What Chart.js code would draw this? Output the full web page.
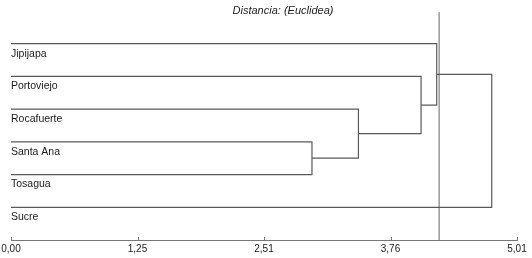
<!DOCTYPE html>
<html>
<head>
<meta charset="utf-8">
<style>
  html, body { margin: 0; padding: 0; background: #fff; }
  #wrap { width: 532px; height: 258px; }
</style>
<script src="https://cdn.jsdelivr.net/npm/chart.js@4/dist/chart.umd.min.js"></script>
</head>
<body>
<div id="wrap"><canvas id="dendro"></canvas></div>
<script>
// leaves, top to bottom
var leaves = ['Jipijapa', 'Portoviejo', 'Rocafuerte', 'Santa Ana', 'Tosagua', 'Sucre'];
// merges: children ids (0-5 leaves, 6+ = merge k), distance of each merge
var mergeLeft   = [3, 2, 1, 0, 9];
var mergeRight  = [4, 6, 7, 8, 5];
var mergeHeight = [2.98, 3.44, 4.06, 4.215, 4.76];
var cutValue = 4.24;
var tickValues = [0, 1.2525, 2.505, 3.7575, 5.01];
var tickLabels = ['0,00', '1,25', '2,51', '3,76', '5,01'];
var titleText = 'Distancia: (Euclidea)';

var lineColor = '#5a5a5a';

function nodePos(id) {
	if (id < leaves.length) return { x: 0, y: id };
	var k = id - leaves.length;
	var a = nodePos(mergeLeft[k]), b = nodePos(mergeRight[k]);
	return { x: mergeHeight[k], y: (a.y + b.y) / 2 };
}

var datasets = [];
for (var k = 0; k < mergeHeight.length; k++) {
	var a = nodePos(mergeLeft[k]), b = nodePos(mergeRight[k]);
	datasets.push({
		data: [
			{ x: a.x, y: a.y },
			{ x: mergeHeight[k], y: a.y },
			{ x: mergeHeight[k], y: b.y },
			{ x: b.x, y: b.y }
		],
		showLine: true,
		borderColor: lineColor,
		borderWidth: 1.2,
		pointRadius: 0,
		fill: false
	});
}
// cut line
datasets.push({
	data: [{ x: cutValue, y: -0.96 }, { x: cutValue, y: 6 }],
	showLine: true,
	borderColor: '#a0a0a0',
	borderWidth: 1,
	pointRadius: 0
});

var labelsPlugin = {
	id: 'leafLabels',
	afterDraw: function (chart) {
		var ctx = chart.ctx;
		var xs = chart.scales.x, ys = chart.scales.y;
		ctx.save();
		ctx.fillStyle = '#1a1a1a';
		ctx.font = '10.5px "Liberation Sans", Arial, sans-serif';
		ctx.textBaseline = 'middle';
		ctx.textAlign = 'left';
		leaves.forEach(function (name, i) {
			ctx.fillText(name, xs.getPixelForValue(0), ys.getPixelForValue(i) + 10);
		});
		// small tick marks above the axis
		ctx.strokeStyle = '#777';
		ctx.lineWidth = 1;
		tickValues.forEach(function (v) {
			var px = Math.round(xs.getPixelForValue(v)) + 0.5;
			ctx.beginPath();
			ctx.moveTo(px, chart.chartArea.bottom);
			ctx.lineTo(px, chart.chartArea.bottom - 3);
			ctx.stroke();
		});
		// title
		ctx.font = 'italic 11px "Liberation Sans", Arial, sans-serif';
		ctx.textAlign = 'center';
		ctx.fillStyle = '#222';
		ctx.fillText(titleText, 283, 11);
		ctx.restore();
	}
};

window.onload = function () {
	var ctx = document.getElementById('dendro').getContext('2d');
	new Chart(ctx, {
		type: 'scatter',
		data: { datasets: datasets },
		options: {
			responsive: true,
			maintainAspectRatio: false,
			animation: false,
			layout: { padding: { left: 11, right: 15, top: 11, bottom: 0 } },
			plugins: {
				legend: { display: false },
				tooltip: { enabled: false },
				title: { display: false }
			},
			scales: {
				x: {
					type: 'linear',
					min: 0,
					max: 5.01,
					afterBuildTicks: function (scale) {
						scale.ticks = tickValues.map(function (v) { return { value: v }; });
					},
					afterFit: function (scale) {
						scale.paddingLeft = 0;
						scale.paddingRight = 0;
					},
					ticks: {
						padding: 4,
						autoSkip: false,
						maxRotation: 0,
						color: '#1a1a1a',
						font: { family: '"Liberation Sans", Arial, sans-serif', size: 10, lineHeight: 1 },
						callback: function (value, index) { return tickLabels[index]; }
					},
					grid: { display: false, drawTicks: false },
					border: { display: true, color: '#777', width: 1 }
				},
				y: {
					type: 'linear',
					display: false,
					reverse: true,
					min: -1,
					max: 6
				}
			}
		},
		plugins: [labelsPlugin]
	});
};
</script>
</body>
</html>
